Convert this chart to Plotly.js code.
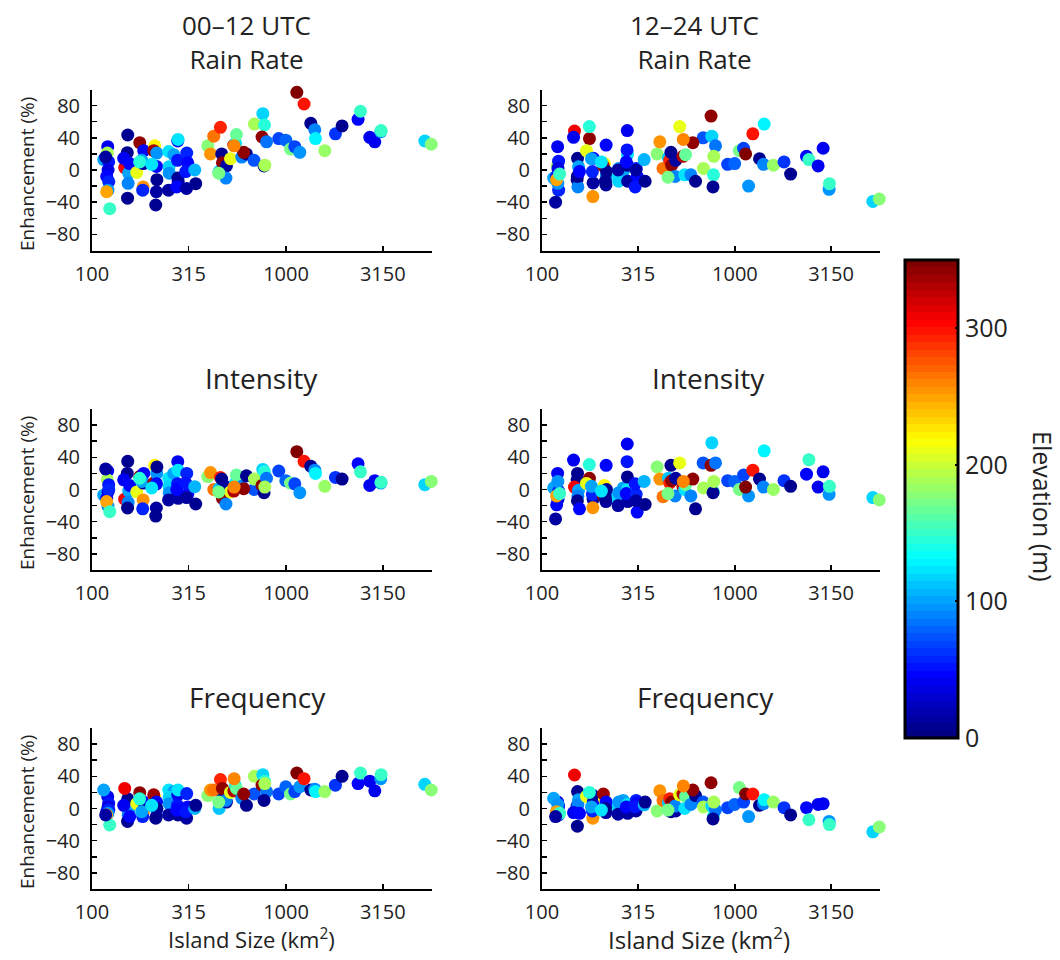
<!DOCTYPE html>
<html>
<head>
<meta charset="utf-8">
<script src="https://cdn.plot.ly/plotly-3.0.1.min.js"></script>
<style>html,body{margin:0;padding:0;background:#fff;}#chart{width:1060px;height:960px;}</style>
</head>
<body>
<div id="chart"></div>
<script>
// ---------- DATA (one entry per island) ----------
const islandSize = [
  120.5,120,114.9,121.9,121,119.1,122,120.8,119,123.4,117.6,
  152.8,152,147.4,154.6,153.5,152.5,145.7,156.4,
  176.2,170,184.7,184,183.5,182.5,180.4,176,
  210.5,208,215.6,215,216,214.5,213,203.1,
  248.5,263.8,249.5,250,248,
  276.7,277.5,276,277,278,273.4,
  307.7,311.4,307,304.1,
  338.4,342.4,
  395,408,424,452,459,466,470,493,490,517,538,549,555,591,625,684,687,759,774,752,793,770,
  917,997,1054,1109,1177,1136,1238,1341,1406,1418,1583,1797,1944,2350,2418,2700,2866,3077,3090,5187,5600,
  605,450,777,540
];
const elevation = [
  40,190,100,50,35,45,55,95,250,150,15,
  10,10,310,100,90,10,40,45,
  340,210,45,12,255,60,100,145,
  220,335,95,45,10,12,8,125,
  125,100,120,95,12,
  40,125,50,10,12,45,
  55,45,12,50,
  105,10,
  175,255,265,110,290,10,340,15,90,210,330,125,165,90,10,75,190,120,145,340,85,10,
  70,80,170,70,95,350,300,10,90,130,185,65,10,45,150,40,40,95,150,115,180,
  340,170,190,260
];
const rainAM = [
  29,21,13,10,0,-8,-14.5,-25,-27,-48,16,
  43.5,21.5,3,-4,-16.5,-35,14.5,8,
  34,-3,24,8,-21,-25,12,10,
  30,24,21,4.5,-12,-27,-43.5,7,
  23,19,4,-4,-25,
  36,38,12,-10,-14,-21,
  21,9,-23,-2,
  0,-17,
  30,20,42,-2,53,20,9,5,-10,14,31,33,44,16,20,12,57,70,56,41,35,5,
  39,37,26,29,22,96.5,82,58,50,39,24,45,54.7,63,73,40.6,35,47.6,49,36,32,
  22,-4,6,30
];
const rainPM = [
  29,5,-10,11,2,-8,-25,-16.5,-12,-5,-40,
  14.5,-12,48.4,4,-21,-8,40.6,-2,
  39,24,14.5,-16,-33,-2,14,54,
  8,5,-8,31,-2,-18.6,-14,10,
  -6,-2,-14,2,0,
  49,19,25,6,-14,10,
  2,-8,0,-21,
  13,-14,
  20,35,2,15,12,22,6,12,-8,54,17,-6,19,-6,-14,40,2,42,-6,67,30,-21,
  7,8,24,27,-20,20,45,14,7,57,6,10,-5,17,13,5,27,-24,-17,-39,-36,
  34,-9,17,38
];
const intAM = [
  23,12,-7,6,-3,-11,0,-20.5,-15,-27.6,25.5,
  35,20,-12,-2,-16,-23,12,5,
  16,-3,20,8,-13,-24,10,14,
  30,8,20,7,28,-23,-33,2,
  14,20,4,-4,-13,
  34.6,24,7,-7,-11,0,
  20,-6,-10,8,
  3.5,-18,
  16,21,0,1,15,13,-11,3,-18,-3,-2,8,18,4,17,0,13,25,22,5,14,-4,
  23,11,8,7,-4,47,35,29,24,20,4,15,13,32,22,5,11,8,9,6,10,
  1,-3,3,3
];
const intPM = [
  20,0,2,-5.6,-12,-19,-2,10,-8,-5,-36.6,
  20,12,3,-1,-8,-14,36.6,-24,
  14,7.5,-2,-12,-22.6,-6,4,31,
  5,-8,-6,30,0,-15,-10,-2,
  -9,2,-13.5,-4,-20,
  56.5,0,34.6,15.6,-15,-5,
  -6,-28,-14,7,
  10,-18.6,
  28,13,-9,14,8,30,11,14,-8,33,3,0,6,-8,-24,33,2,58,-3,30,33,-4,
  11,10,0,18,-8,3,24,13,3,48,0,11,4,19,37,3,22,-6,4,-10,-13,
  13,-5,10,10
];
const freqAM = [
  14.7,0,23,6.4,2,-4,-2,-6,-8,-20.5,-8,
  12,8,25,-3,-8,-16,4,-10,
  19.7,6,8,-2,-5,-10,-4,12,
  14,17,-2,8,0,-10,-12,4,
  23,21,14,6,-8,
  17,23,4,-8,-4,-2,
  18.6,2,-12,-4,
  0,4,
  16,23,23,0,36,11,25,8,10,20,22,28,25,13,4,18,40,42,34,29,21,10,
  18,27,18,21,27,44,37,23,24,21,21,29,40,31,44,34,22,37,42,30,23,
  18,8,31,37
];
const freqPM = [
  8,-2,12.6,3,0,-5,-8,5,-4,-6,-10,
  21,3,41.6,11,5,-22,-5,-6,
  17,15,8,16,-12,-3,2,20,
  12,18,4,8,-2,-5,0,-2,
  -1,10,3,8,-7,
  0,5,-2,-3,-6,2,
  10,7,-3,2,
  4.6,8,
  -3,22,10,7,12,-4,8,-3,3,17,18,0,15,5,16,8,2,3,-9,32,-2,-13,
  1,5,26,8,-10,18,18,4,6,11,8,1,-8,1,-14,5,6,-16,-20,-29,-23,
  23,-2,8,28
];
const xTickVals = [100, 315, 1000, 3150];
const xTickText = ['100', '315', '1000', '3150'];
const colorTickVals = [0, 100, 200, 300];
const panelTitles = ['00\u201312 UTC', '12\u201324 UTC', 'Rain Rate', 'Intensity', 'Frequency'];

// ---------- STYLE ----------
const FONT = '"Open Sans", "Noto Sans", sans-serif';
const TXT = '#222';

function clamp(v){ return Math.max(0, Math.min(1, v)); }
function jet(t){
  const r = clamp(1.5 - Math.abs(4*t - 3));
  const g = clamp(1.5 - Math.abs(4*t - 2));
  const b = clamp(1.5 - Math.abs(4*t - 1));
  return 'rgb(' + Math.round(r*255) + ',' + Math.round(g*255) + ',' + Math.round(b*255) + ')';
}
const jetScale = [];
for (let i = 0; i < 64; i++) {
  const c = jet(i / 63);
  jetScale.push([i / 64, c]);
  jetScale.push([(i + 1) / 64, c]);
}

const panels = [
  {y: rainAM, xa: 'x',  ya: 'y'},
  {y: rainPM, xa: 'x2', ya: 'y2'},
  {y: intAM,  xa: 'x3', ya: 'y3'},
  {y: intPM,  xa: 'x4', ya: 'y4'},
  {y: freqAM, xa: 'x5', ya: 'y5'},
  {y: freqPM, xa: 'x6', ya: 'y6'}
];

const traces = panels.map((p, i) => ({
  type: 'scatter', mode: 'markers',
  x: islandSize, y: p.y, xaxis: p.xa, yaxis: p.ya,
  cliponaxis: false, hoverinfo: 'skip', showlegend: false,
  marker: {
    size: 13, color: elevation, cmin: 0, cmax: 350,
    colorscale: jetScale, line: {width: 0},
    showscale: i === 0,
    colorbar: {
      x: 905/1060, xanchor: 'left', xref: 'paper', xpad: 0,
      y: 1 - 499/960, yanchor: 'middle', yref: 'paper', ypad: 0,
      len: 478, lenmode: 'pixels', thickness: 53, thicknessmode: 'pixels',
      outlinewidth: 3, outlinecolor: '#000',
      tickvals: colorTickVals, ticks: 'inside', ticklen: 4, tickwidth: 2, tickcolor: '#000',
      tickfont: {family: FONT, size: 25, color: TXT}
    }
  }
}));

const xL = [92/1060, 432/1060], xR = [542/1060, 880/1060];
const rows = [[1 - 250.5/960, 1 - 89.5/960], [1 - 570/960, 1 - 409/960], [1 - 889/960, 1 - 728/960]];

function xax(dom, anchor){
  return {domain: dom, anchor: anchor, type: 'log', range: [2, 3.752],
    tickvals: xTickVals, ticktext: xTickText, ticks: 'inside', ticklen: 5, tickwidth: 1.5,
    tickcolor: '#000', showline: true, linewidth: 2, linecolor: '#000',
    showgrid: false, zeroline: false, ticklabelstandoff: 4,
    tickfont: {family: FONT, size: 20, color: TXT}};
}
function yax(dom, anchor){
  return {domain: dom, anchor: anchor, range: [-100, 100],
    tickmode: 'linear', tick0: 0, dtick: 40, ticks: 'inside', ticklen: 5, tickwidth: 1.5,
    tickcolor: '#000', showline: true, linewidth: 2, linecolor: '#000',
    minor: {tickmode: 'linear', tick0: 0, dtick: 20, ticks: 'inside', ticklen: 5,
            tickwidth: 1.5, tickcolor: '#000', showgrid: false},
    showgrid: false, zeroline: false, ticklabelstandoff: 6,
    tickfont: {family: FONT, size: 20, color: TXT}};
}

function ann(text, px, py, size, angle){
  return {text: text, x: px/1060, y: 1 - py/960, xref: 'paper', yref: 'paper',
    xanchor: 'center', yanchor: 'middle', showarrow: false, textangle: angle || 0,
    font: {family: FONT, size: size, color: TXT}};
}

const annotations = [
  ann(panelTitles[0] + '<br>' + panelTitles[2], 246, 42, 26),
  ann(panelTitles[1] + '<br>' + panelTitles[2], 694, 42, 26),
  ann(panelTitles[3], 261, 378, 28), ann(panelTitles[3], 708, 378, 28),
  ann(panelTitles[4], 257, 697, 28), ann(panelTitles[4], 705, 697, 28),
  ann('Enhancement (%)', 27, 174, 19, -90),
  ann('Enhancement (%)', 27, 493, 19, -90),
  ann('Enhancement (%)', 27, 812, 19, -90),
  ann('Island Size (km<sup>2</sup>)', 251, 938, 22),
  ann('Island Size (km<sup>2</sup>)', 699, 938, 24),
  ann('Elevation (m)', 1043, 506, 25, 90)
];

const layout = {
  width: 1060, height: 960, margin: {l: 0, r: 0, t: 0, b: 0},
  paper_bgcolor: '#fff', plot_bgcolor: '#fff', showlegend: false,
  xaxis: xax(xL, 'y'),   yaxis: yax(rows[0], 'x'),
  xaxis2: xax(xR, 'y2'), yaxis2: yax(rows[0], 'x2'),
  xaxis3: xax(xL, 'y3'), yaxis3: yax(rows[1], 'x3'),
  xaxis4: xax(xR, 'y4'), yaxis4: yax(rows[1], 'x4'),
  xaxis5: xax(xL, 'y5'), yaxis5: yax(rows[2], 'x5'),
  xaxis6: xax(xR, 'y6'), yaxis6: yax(rows[2], 'x6'),
  annotations: annotations
};

Plotly.newPlot('chart', traces, layout, {staticPlot: true, displayModeBar: false});
</script>
</body>
</html>
